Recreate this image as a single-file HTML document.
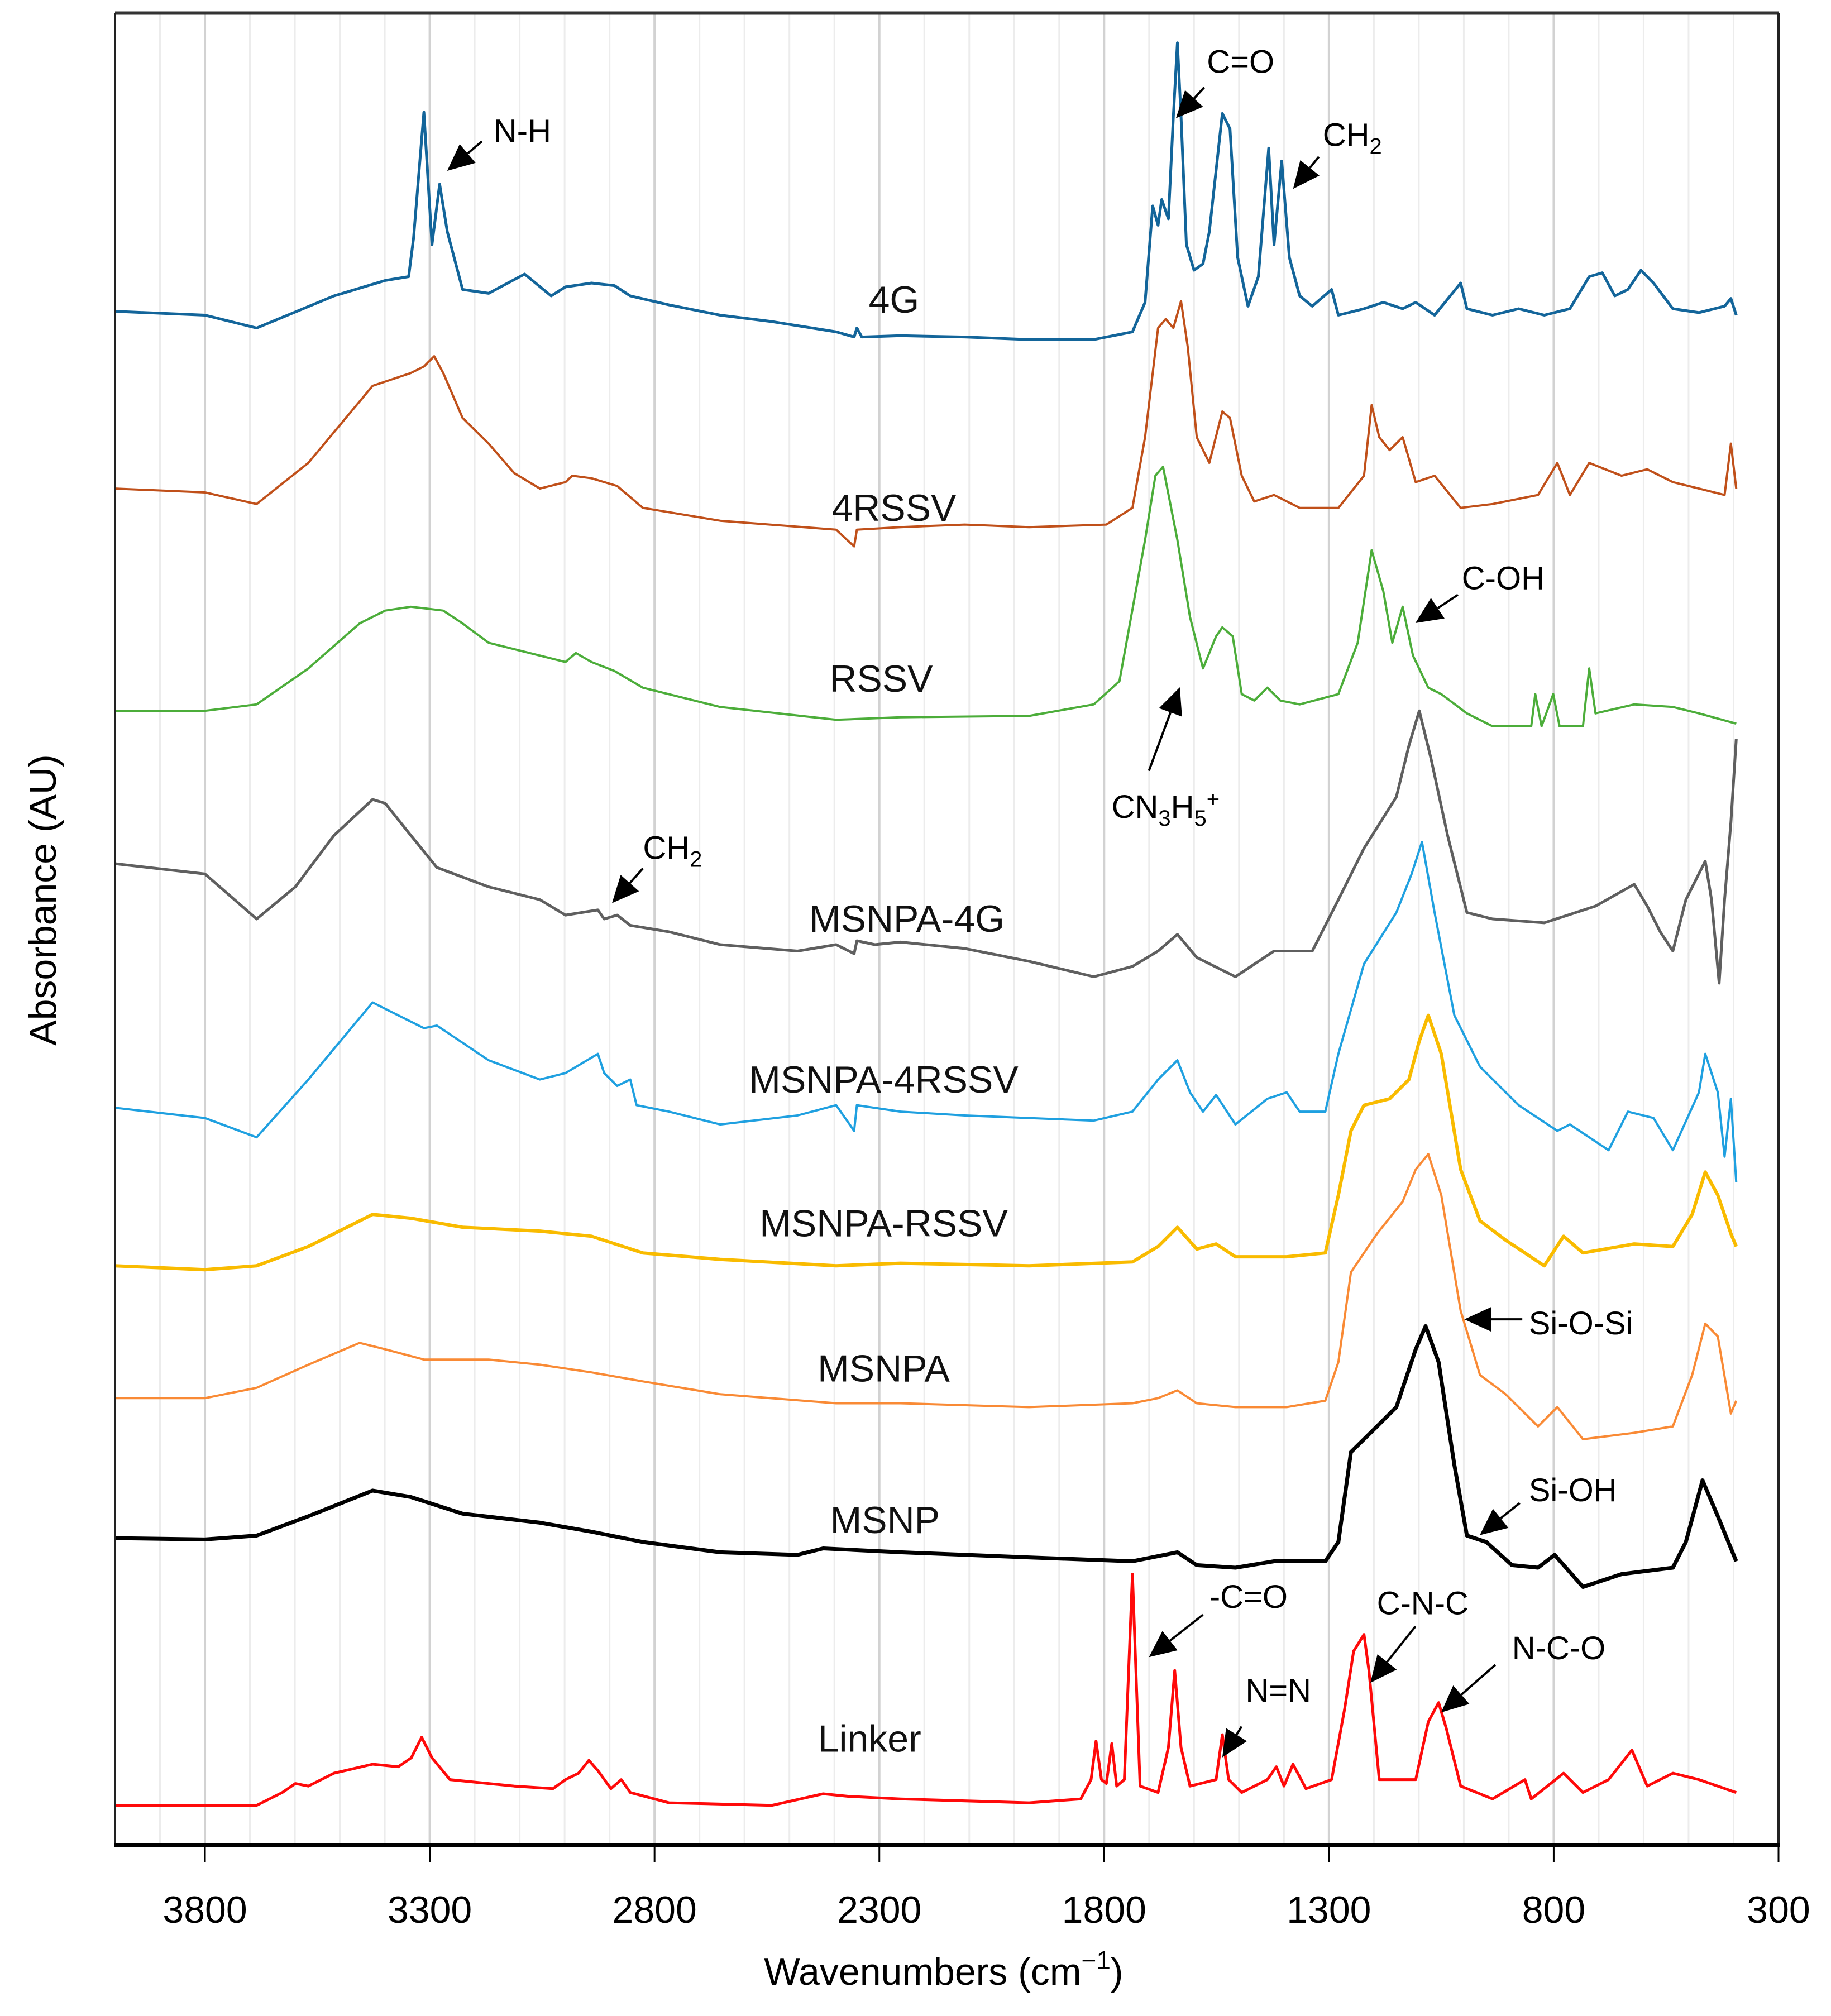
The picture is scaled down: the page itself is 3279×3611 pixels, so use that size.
<!DOCTYPE html>
<html><head><meta charset="utf-8"><style>
html,body{margin:0;padding:0;background:#fff;}
svg{display:block;font-family:"Liberation Sans",sans-serif;}
</style></head><body>
<svg id="chart" width="3279" height="3611" viewBox="0 0 3279 3611" xmlns="http://www.w3.org/2000/svg">
<g id="grid"></g>
<g id="series"></g>
<g id="frame"></g>
<g id="labels"></g>
<g id="annot"></g>
<g id="axes"></g>
</svg>
<script>
// ---- data ----
const xTicks = [3800, 3300, 2800, 2300, 1800, 1300, 800, 300];
const seriesNames = ["4G","4RSSV","RSSV","MSNPA-4G","MSNPA-4RSSV","MSNPA-RSSV","MSNPA","MSNP","Linker"];
const wn4G = [4000,3800,3685,3513,3399,3347,3336,3313,3295,3278,3261,3227,3169,3089,3030,2998,2940,2889,2854,2768,2654,2539,2396,2356,2350,2339,2253,2110,1967,1823,1737,1709,1692,1680,1672,1657,1646,1637,1629,1617,1600,1580,1566,1537,1520,1503,1480,1457,1434,1422,1405,1388,1365,1337,1294,1279,1222,1179,1136,1107,1065,1007,993,936,878,821,764,721,692,664,635,606,578,535,477,420,406,394];
const ab4G = [1194,1191,1181,1206,1218,1221,1251,1349,1246,1293,1256,1211,1208,1223,1206,1213,1216,1214,1206,1199,1191,1186,1178,1174,1181,1174,1175,1174,1172,1172,1178,1201,1276,1261,1281,1266,1346,1403,1346,1246,1226,1231,1256,1348,1336,1236,1198,1221,1321,1246,1311,1236,1206,1198,1211,1191,1196,1201,1196,1201,1191,1216,1196,1191,1196,1191,1196,1221,1224,1206,1211,1226,1216,1196,1193,1198,1204,1191];
const wn4RSSV = [4000,3800,3685,3570,3427,3342,3313,3290,3270,3227,3169,3112,3055,2998,2983,2940,2883,2826,2654,2396,2356,2350,2253,2110,1967,1795,1737,1709,1680,1663,1646,1629,1614,1594,1566,1537,1520,1494,1466,1422,1365,1279,1222,1205,1188,1165,1136,1107,1065,1007,936,835,792,764,721,649,592,535,477,420,406,394];
const ab4RSSV = [1056,1053,1044,1076,1136,1146,1151,1159,1146,1111,1091,1068,1056,1061,1066,1064,1058,1041,1031,1024,1011,1024,1026,1028,1026,1028,1041,1096,1181,1188,1181,1202,1166,1096,1076,1116,1111,1066,1046,1051,1041,1041,1066,1121,1096,1086,1096,1061,1066,1041,1044,1051,1076,1051,1076,1066,1071,1061,1056,1051,1091,1056];
const wnRSSV = [4000,3800,3685,3570,3456,3399,3342,3270,3227,3169,3112,3055,2998,2975,2940,2889,2826,2654,2396,2253,1967,1823,1766,1709,1686,1669,1637,1609,1580,1551,1537,1514,1494,1466,1437,1408,1365,1279,1236,1205,1179,1159,1136,1113,1079,1050,993,936,850,841,827,801,787,735,721,707,621,535,477,394];
const abRSSV = [883,883,888,916,951,961,964,961,951,936,931,926,921,928,921,914,901,886,876,878,879,888,906,1016,1066,1073,1016,956,916,941,948,941,896,891,901,891,888,896,936,1008,976,936,964,926,901,896,881,871,871,896,871,896,871,871,916,881,888,886,881,873];
const wnM4G = [4000,3800,3685,3599,3513,3427,3399,3342,3284,3169,3055,2998,2926,2912,2883,2854,2768,2654,2482,2396,2356,2350,2310,2253,2110,1967,1823,1737,1680,1637,1594,1508,1422,1337,1279,1222,1150,1122,1099,1073,1036,993,936,821,707,621,592,563,535,506,463,449,432,420,406,394];
const abM4G = [764,756,721,746,786,814,811,786,761,746,736,724,728,721,724,716,711,701,696,701,694,704,701,703,698,688,676,684,696,709,691,676,696,696,736,776,816,856,883,846,786,726,721,718,731,748,731,711,696,736,766,736,671,736,796,861];
const wnM4RSSV = [4000,3800,3685,3570,3427,3399,3313,3284,3169,3055,2998,2926,2912,2883,2854,2840,2768,2654,2482,2396,2356,2350,2253,2110,1967,1823,1737,1680,1637,1609,1580,1551,1508,1437,1394,1365,1308,1279,1222,1150,1116,1093,1065,1021,964,878,792,764,678,635,578,535,477,463,435,420,406,394];
const abM4RSSV = [574,566,551,596,656,651,636,638,611,596,601,616,601,591,596,576,571,561,568,576,556,576,571,568,566,564,571,596,611,586,571,584,561,581,586,571,571,616,686,726,756,781,726,646,606,576,556,561,541,571,566,541,586,616,586,536,581,516];
const wnMRSSV = [4000,3800,3685,3570,3427,3342,3227,3055,2940,2826,2654,2396,2253,1967,1737,1680,1637,1594,1551,1508,1394,1308,1279,1251,1222,1165,1122,1099,1079,1050,1007,964,907,821,778,735,621,535,492,463,435,406,394];
const abMRSSV = [451,448,451,466,491,488,481,478,474,461,456,451,453,451,454,466,481,464,468,458,458,461,506,556,576,581,596,626,646,616,526,486,471,451,474,461,468,466,491,524,506,476,466];
const wnMSNPA = [4000,3800,3685,3570,3456,3399,3313,3169,3055,2940,2826,2654,2396,2253,1967,1737,1680,1637,1594,1508,1394,1308,1279,1251,1193,1136,1107,1079,1050,1007,964,907,835,792,735,621,535,492,463,435,406,394];
const abMSNPA = [348,348,356,374,391,386,378,378,374,368,361,351,344,344,341,344,348,354,344,341,341,346,376,446,476,501,526,538,506,416,366,351,326,341,316,321,326,366,406,396,336,346];
const wnMSNP = [4000,3800,3685,3570,3427,3342,3227,3055,2940,2826,2654,2482,2425,2253,1967,1737,1637,1594,1508,1422,1308,1279,1251,1193,1150,1107,1085,1056,1021,993,950,893,835,798,735,649,535,506,469,435,394];
const abMSNP = [239,238,241,256,276,271,258,251,244,236,228,226,231,228,224,221,228,218,216,221,221,236,306,326,341,386,404,376,296,241,236,218,216,226,201,211,216,236,284,256,221];
const wnLinker = [4000,3800,3685,3628,3599,3570,3513,3427,3370,3341,3318,3295,3255,3112,3026,2998,2969,2946,2926,2897,2874,2854,2768,2539,2425,2368,2253,1967,1852,1829,1818,1806,1795,1783,1772,1755,1737,1720,1680,1657,1643,1629,1609,1551,1537,1523,1494,1437,1417,1400,1380,1351,1294,1265,1245,1222,1211,1188,1107,1079,1056,1039,1007,936,864,850,778,735,678,626,592,535,477,394];
const abLinker = [31,31,31,41,48,46,56,63,61,68,84,68,51,46,44,51,56,66,58,44,51,41,33,31,40,38,36,33,36,51,81,51,48,79,46,51,211,46,41,76,136,76,46,51,86,51,41,51,61,46,63,44,51,106,151,164,136,51,51,96,111,91,46,36,51,36,56,41,51,74,46,56,51,41];

const NS = "http://www.w3.org/2000/svg";
const L = 206, R = 3185, T = 23, B = 3305;
function xS(w){ return L + (4000 - w) / 3700 * (R - L); }
function yS(v){ return B - v * 2.301; }
function mk(tag, attrs, parent){ const e = document.createElementNS(NS, tag); for (const k in attrs) e.setAttribute(k, attrs[k]); parent.appendChild(e); return e; }

// grid
const grid = document.getElementById('grid');
for (let w = 3900; w > 300; w -= 100) {
  const major = ((w - 300) % 500 === 0);
  const g = mk('line', {x1:xS(w), x2:xS(w), y1:T, y2:B, stroke: major ? '#d2d2d2' : '#ececec', 'stroke-width': major ? 4 : 3}, grid);
  
  
}

// series
const sg = document.getElementById('series');
const wnList = [wn4G, wn4RSSV, wnRSSV, wnM4G, wnM4RSSV, wnMRSSV, wnMSNPA, wnMSNP, wnLinker];
const abList = [ab4G, ab4RSSV, abRSSV, abM4G, abM4RSSV, abMRSSV, abMSNPA, abMSNP, abLinker];
const colors = ['#13659a','#c0501a','#4cad3a','#5f5f5f','#1fa0e0','#f9bb00','#f98a35','#000000','#ff0a0a'];
const widths = [5,4,4,5,4,6,4,7,5];
seriesNames.forEach((n, i) => {
  const d = wnList[i].map((w, j) => (j ? 'L' : 'M') + xS(w).toFixed(1) + ',' + yS(abList[i][j]).toFixed(1)).join(' ');
  const p = mk('path', {d, fill:'none', stroke:colors[i], 'stroke-width':widths[i], 'stroke-linejoin':'round'}, sg);
  
  
});

// frame
const fr = document.getElementById('frame');
mk('line', {x1:L, x2:R, y1:T, y2:T, stroke:'#333', 'stroke-width':5}, fr);
mk('line', {x1:L, x2:L, y1:T, y2:B, stroke:'#222', 'stroke-width':4}, fr);
mk('line', {x1:R, x2:R, y1:T, y2:B, stroke:'#222', 'stroke-width':4}, fr);
mk('line', {x1:L-2, x2:R+2, y1:B, y2:B, stroke:'#000', 'stroke-width':7}, fr);

// axes ticks & labels
const ax = document.getElementById('axes');
xTicks.forEach(w => {
  const t = mk('line', {x1:xS(w), x2:xS(w), y1:B, y2:B+30, stroke:'#000', 'stroke-width':3}, ax);
  
  
  const tl = mk('text', {x:xS(w), y:3444, 'font-size':68, 'text-anchor':'middle', fill:'#000'}, ax);
  tl.textContent = w;
  
  
});
const xt = mk('text', {x:1690, y:3555, 'font-size':68, 'text-anchor':'middle', fill:'#000'}, ax);
xt.innerHTML = 'Wavenumbers (cm<tspan dy="-28" font-size="46">−1</tspan><tspan dy="28">)</tspan>';


const yt = mk('text', {x:0, y:0, 'font-size':68, 'text-anchor':'middle', fill:'#000', transform:'translate(100,1612) rotate(-90)'}, ax);
yt.textContent = 'Absorbance (AU)';



// series labels
const K = (R - L) / 1292;
const lg = document.getElementById('labels');
const labelPos = [[695,233],[695,395],[685,528],[705,715],[687,840],[687,952],[687,1065],[688,1183],[676,1353]];
seriesNames.forEach((n, i) => {
  const t = mk('text', {x: 206 + (labelPos[i][0]-90)*K, y: labelPos[i][1]*2.301 + 24, 'font-size':68, 'text-anchor':'middle', fill:'#111'}, lg);
  t.textContent = n;
  
  
});

// annotations
const an = document.getElementById('annot');
function P(x, y){ return [206 + (x-90)*K, y*2.301]; }
function arrow(x1,y1,x2,y2,name){
  const a = P(x1,y1), b = P(x2,y2);
  const dx = b[0]-a[0], dy = b[1]-a[1], len = Math.hypot(dx,dy), ux = dx/len, uy = dy/len;
  const hl = 48, hw = 22;
  const bx = b[0]-ux*hl, by = b[1]-uy*hl;
  const g = mk('g', {}, an);
  
  
  mk('line', {x1:a[0], y1:a[1], x2:bx, y2:by, stroke:'#000', 'stroke-width':4}, g);
  mk('polygon', {points:`${b[0]},${b[1]} ${bx-uy*hw},${by+ux*hw} ${bx+uy*hw},${by-ux*hw}`, fill:'#000'}, g);
}
function label(x,y,html,name,anchor){
  const p = P(x,y);
  const t = mk('text', {x:p[0], y:p[1]+20, 'font-size':58, fill:'#000', 'text-anchor':anchor||'start'}, an);
  t.innerHTML = html;
  
  
}
label(384,102,'N-H','label-nh'); arrow(375,110,348,133,'arrow-nh');
label(938,48,'C=O','label-co'); arrow(936,68,914,92,'arrow-co');
label(1028,105,'CH<tspan dy="14" font-size="40">2</tspan>','label-ch2-top'); arrow(1025,122,1005,147,'arrow-ch2-top');
label(1136,450,'C-OH','label-coh'); arrow(1133,463,1100,485,'arrow-coh');
label(864,628,'CN<tspan dy="14" font-size="40">3</tspan><tspan dy="-14">H</tspan><tspan dy="14" font-size="40">5</tspan><tspan dy="-34" font-size="40">+</tspan>','label-cn3h5');
arrow(893,600,917,535,'arrow-cn3h5');
label(500,660,'CH<tspan dy="14" font-size="40">2</tspan>','label-ch2-mid'); arrow(500,676,476,703,'arrow-ch2-mid');
label(1188,1030,'Si-O-Si','label-siosi'); arrow(1183,1027,1138,1027,'arrow-siosi');
label(1188,1160,'Si-OH','label-sioh'); arrow(1181,1170,1150,1195,'arrow-sioh');
label(940,1243,'-C=O','label-c-o-linker'); arrow(935,1257,893,1290,'arrow-c-o-linker');
label(968,1316,'N=N','label-nn'); arrow(965,1344,950,1368,'arrow-nn');
label(1070,1248,'C-N-C','label-cnc'); arrow(1100,1266,1065,1310,'arrow-cnc');
label(1175,1283,'N-C-O','label-nco'); arrow(1162,1296,1120,1333,'arrow-nco');
</script>
</body></html>
